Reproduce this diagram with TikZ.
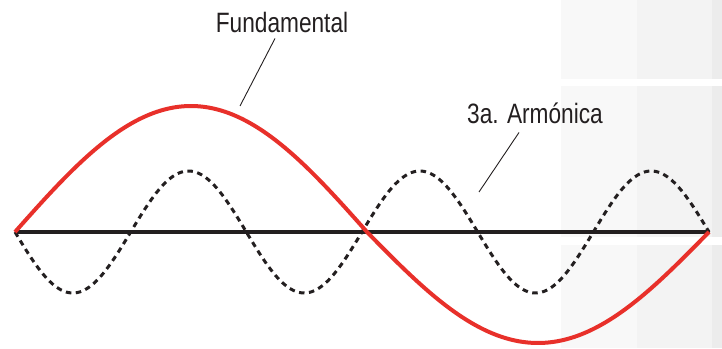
\documentclass[tikz,border=0pt]{standalone}
\usepackage{fontspec}
\newfontfamily\labelfont[FakeStretch=0.81]{Liberation Sans}
\usetikzlibrary{positioning,calc}
\definecolor{waveRed}{HTML}{E8302A}
\definecolor{inkBlack}{HTML}{231F20}
\definecolor{panelA}{HTML}{F8F8F8}
\definecolor{panelB}{HTML}{F3F3F3}
\definecolor{panelC}{HTML}{ECECEC}
\newcommand{\FundamentalLabel}{Fundamental}
\newcommand{\HarmonicLabel}{3a. Armónica}
\def\AxisY{232}
\def\WaveStart{15}
\def\WaveMid{367}
\def\WaveEnd{709}
\tikzset{
  axisline/.style={line width=4.2pt,draw=inkBlack},
  fundamental/.style={line width=4pt,draw=waveRed,line join=round},
  harmonic/.style={line width=3pt,draw=inkBlack,dash pattern=on 5.5pt off 4.5pt},
  leader/.style={line width=0.9pt,draw=inkBlack},
  wavelabel/.style={
    font=\labelfont\fontsize{28}{28}\selectfont,
    text=inkBlack,
    inner sep=0pt,
    anchor=base
  }
}

\begin{document}
\begin{tikzpicture}[x=1pt,y=-1pt]
  \useasboundingbox (0,0) rectangle (722,348);

  % Grey panels on the right edge.
  \foreach \top/\bot in {0/79,86/237,245/348}{
    \fill[panelA] (561,\top) rectangle (637,\bot);
    \fill[panelB] (637,\top) rectangle (712,\bot);
    \fill[panelC] (712,\top) rectangle (722,\bot);
  }

  \coordinate (start) at (\WaveStart,\AxisY);
  \coordinate (end) at (\WaveEnd,\AxisY);
  \draw[axisline] (start) -- ([xshift=1pt]end);

  \draw[harmonic] plot[domain=\WaveStart:\WaveEnd,samples=300]
    (\x,{\AxisY+61*sin((\x-\WaveStart)*1.556196)});

  \draw[fundamental]
    plot[domain=\WaveStart:\WaveMid,samples=100]
      (\x,{\AxisY-126*sin((\x-\WaveStart)*0.511364)})
    -- plot[domain=\WaveMid:\WaveEnd,samples=100]
      (\x,{\AxisY+111*sin((\x-\WaveMid)*0.526316)});

  \node[wavelabel] (fund) at (282,32) {\FundamentalLabel};
  \node[wavelabel] (harm) at (535,123) {\HarmonicLabel};

  \coordinate (fundTip) at (240,106);
  \coordinate (harmTip) at (479,192);

  \draw[leader] ([xshift=-7pt,yshift=-6pt]fund.south) -- (fundTip);
  \draw[leader] ([xshift=-16pt,yshift=-9pt]harm.south) -- (harmTip);
\end{tikzpicture}
\end{document}
